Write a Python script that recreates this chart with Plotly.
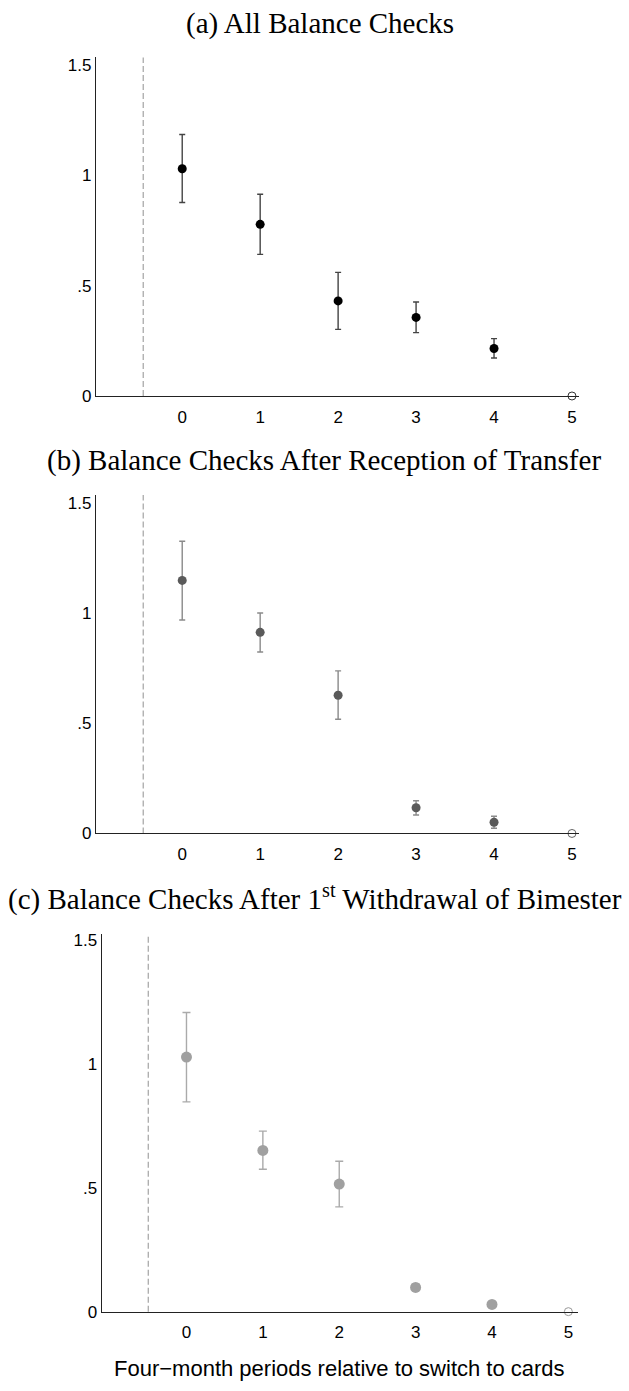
import plotly.graph_objects as go

W, H = 629, 1391

periods = [0, 1, 2, 3, 4]
ref_period = [5]
ref_value = [0]

a_est = [1.030, 0.778, 0.431, 0.356, 0.215]
a_lo = [0.877, 0.642, 0.302, 0.287, 0.172]
a_hi = [1.185, 0.914, 0.560, 0.426, 0.260]

b_est = [1.150, 0.914, 0.628, 0.117, 0.051]
b_lo = [0.970, 0.825, 0.519, 0.084, 0.024]
b_hi = [1.328, 1.002, 0.739, 0.149, 0.078]

c_est = [1.028, 0.651, 0.515, 0.098, 0.029]
c_lo = [0.847, 0.575, 0.423, 0.085, 0.020]
c_hi = [1.208, 0.729, 0.607, 0.111, 0.038]

x_ticks = [0, 1, 2, 3, 4, 5]
y_ticks = [0, 0.5, 1, 1.5]
y_ticktext = ["0", ".5", "1", "1.5"]

titles = [
    "(a) All Balance Checks",
    "(b) Balance Checks After Reception of Transfer",
    "(c) Balance Checks After 1<sup>st</sup> Withdrawal of Bimester",
]
x_title = "Four\u2212month periods relative to switch to cards"


def px_x(p):
    return p / W


def px_y(p):
    return 1 - p / H


panels = [
    dict(est=a_est, lo=a_lo, hi=a_hi, mcol="#000000", ecol="#444444", msize=9,
         hcol="#333333", xdom=(96, 579), ydom=(396.7, 55), xr=[-1.106, 5.09], yr=[0, 1.534],
         title_x=320, title_y=21, cap=3),
    dict(est=b_est, lo=b_lo, hi=b_hi, mcol="#5a5a5a", ecol="#8a8a8a", msize=9,
         hcol="#666666", xdom=(96, 579), ydom=(838.3, 496.7), xr=[-1.106, 5.09], yr=[0, 1.538],
         title_x=324, title_y=462, cap=3),
    dict(est=c_est, lo=c_lo, hi=c_hi, mcol="#a0a0a0", ecol="#aaaaaa", msize=11,
         hcol="#999999", xdom=(101.7, 578.3), ydom=(1321, 940), xr=[-1.11, 5.13], yr=[0, 1.524],
         title_x=315, title_y=903, cap=4),
]

fig = go.Figure()
layout = dict(
    width=W, height=H, margin=dict(l=0, r=0, t=0, b=0),
    paper_bgcolor="white", plot_bgcolor="white", showlegend=False,
    font=dict(family="Liberation Sans", color="black", size=17),
)
shapes = []
annotations = []

for i, p in enumerate(panels):
    n = "" if i == 0 else str(i + 1)
    xa, ya = "x" + n, "y" + n
    up = [h - e for h, e in zip(p["hi"], p["est"])]
    dn = [e - l for e, l in zip(p["est"], p["lo"])]
    fig.add_trace(go.Scatter(
        x=periods, y=p["est"], mode="markers", xaxis=xa, yaxis=ya,
        marker=dict(color=p["mcol"], size=p["msize"]),
        error_y=dict(type="data", symmetric=False, array=up, arrayminus=dn,
                     color=p["ecol"], thickness=1.4, width=p["cap"]),
        cliponaxis=False,
    ))
    fig.add_trace(go.Scatter(
        x=ref_period, y=ref_value, mode="markers", xaxis=xa, yaxis=ya,
        marker=dict(color="white", size=8, line=dict(color=p["hcol"], width=1)),
        cliponaxis=False,
    ))
    layout["xaxis" + n] = dict(
        domain=[px_x(p["xdom"][0]), px_x(p["xdom"][1])], range=p["xr"],
        anchor=ya, tickmode="array", tickvals=x_ticks, ticks="",
        showgrid=False, zeroline=False, showline=True, linecolor="#222222", linewidth=1.3,
        tickfont=dict(family="Liberation Sans", size=17, color="black"),
        ticklabelstandoff=5,
    )
    layout["yaxis" + n] = dict(
        domain=[px_y(p["ydom"][0]), px_y(p["ydom"][1])], range=p["yr"],
        anchor=xa, tickmode="array", tickvals=y_ticks, ticktext=y_ticktext, ticks="",
        showgrid=False, zeroline=False, showline=True, linecolor="#222222", linewidth=1.3,
        tickfont=dict(family="Liberation Sans", size=17, color="black"),
    )
    shapes.append(dict(
        type="line", xref=xa, yref=ya + " domain", x0=-0.5, x1=-0.5, y0=0, y1=1,
        line=dict(color="#aaaaaa", width=1.3, dash="6px,3px"), layer="below",
    ))
    annotations.append(dict(
        text=titles[i], x=px_x(p["title_x"]), y=px_y(p["title_y"]), xref="paper", yref="paper",
        showarrow=False, xanchor="center", yanchor="middle",
        font=dict(family="Liberation Serif", size=29, color="black"),
    ))

annotations.append(dict(
    text=x_title, x=px_x(339), y=px_y(1378), xref="paper", yref="paper",
    showarrow=False, xanchor="center", yanchor="middle",
    font=dict(family="Liberation Sans", size=22, color="black"),
))

layout["shapes"] = shapes
layout["annotations"] = annotations
fig.update_layout(**layout)
fig.write_html("out.html", config={"displayModeBar": False},
               post_script="document.body.style.margin='0';")
